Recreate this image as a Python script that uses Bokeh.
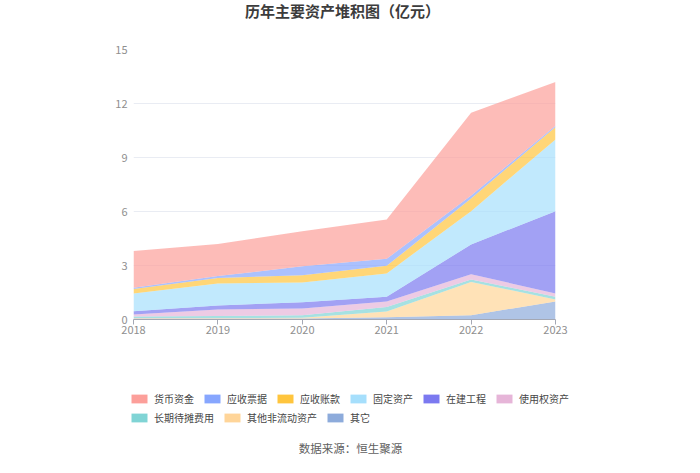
from bokeh.plotting import figure
from bokeh.models import Legend, LegendItem, Label, FixedTicker, ColumnDataSource
from bokeh.layouts import column
from bokeh.embed import file_html
from bokeh.resources import INLINE

years = [2018, 2019, 2020, 2021, 2022, 2023]
qita = [0.05, 0.05, 0.05, 0.13, 0.24, 1.00]          # 其它
qita_fld = [0.03, 0.03, 0.05, 0.32, 1.85, 0.11]      # 其他非流动资产
changqi = [0.09, 0.11, 0.14, 0.25, 0.13, 0.15]       # 长期待摊费用
shiyong = [0.11, 0.37, 0.37, 0.30, 0.30, 0.18]       # 使用权资产
zaijian = [0.18, 0.22, 0.35, 0.26, 1.65, 4.58]       # 在建工程
guding = [0.98, 1.22, 1.10, 1.30, 1.85, 3.98]        # 固定资产
yszk = [0.25, 0.31, 0.40, 0.42, 0.70, 0.70]          # 应收账款
yspj = [0.07, 0.10, 0.50, 0.39, 0.17, 0.06]          # 应收票据
huobi = [2.04, 1.79, 1.94, 2.19, 4.59, 2.44]         # 货币资金

names = ["其它", "其他非流动资产", "长期待摊费用", "使用权资产", "在建工程",
         "固定资产", "应收账款", "应收票据", "货币资金"]
series = [qita, qita_fld, changqi, shiyong, zaijian, guding, yszk, yspj, huobi]
colors = ["#8DABDB", "#FFD599", "#80D4D5", "#E6B5D8", "#7B79F0",
          "#A6DFFC", "#FFC53D", "#87A6FE", "#FC9F9A"]

y_ticks = [0, 3, 6, 9, 12, 15]

data = {"x": years}
for n, s in zip(names, series):
    data[n] = s
src = ColumnDataSource(data)

FONT = "Noto Sans CJK SC"

# title strip
p0 = figure(width=684, height=24, output_backend="svg", toolbar_location=None,
            x_range=(0, 684), y_range=(0, 24), x_axis_type=None, y_axis_type=None,
            min_border=0)
p0.frame_align = False
p0.outline_line_color = None
p0.grid.visible = False
p0.add_layout(Label(x=342, y=14, text="历年主要资产堆积图（亿元）",
                    text_align="center", text_baseline="middle",
                    text_font=FONT, text_font_size="15px", text_font_style="bold",
                    text_color="#3c3c3c"))

p = figure(width=684, height=321, output_backend="svg", toolbar_location=None,
           x_range=(2018, 2023), y_range=(0, 15),
           min_border_left=133, min_border_right=129,
           min_border_top=25, min_border_bottom=26)
p.outline_line_color = None

p.varea_stack(stackers=names, x="x", source=src, color=colors, fill_alpha=0.7)

# axes
p.yaxis.ticker = FixedTicker(ticks=y_ticks)
p.xaxis.ticker = FixedTicker(ticks=years)
p.yaxis.axis_line_color = None
p.yaxis.major_tick_line_color = None
p.yaxis.major_tick_out = 0
p.yaxis.major_tick_in = 0
p.yaxis.minor_tick_line_color = None
p.yaxis.major_label_text_color = "#8f8f8f"
p.yaxis.major_label_text_font_size = "11px"
p.yaxis.major_label_text_font = FONT
p.yaxis.major_label_standoff = 6

p.xaxis.axis_line_color = "#A4A8B4"
p.xaxis.major_tick_line_color = "#A4A8B4"
p.xaxis.major_tick_in = 0
p.xaxis.major_tick_out = 5
p.xaxis.minor_tick_line_color = None
p.xaxis.major_label_text_color = "#8f8f8f"
p.xaxis.major_label_text_font_size = "11px"
p.xaxis.major_label_text_font = FONT
p.xaxis.major_label_standoff = 1

p.xgrid.grid_line_color = None
p.ygrid.grid_line_color = "#E9ECF3"

# bottom area: legend + source
p2 = figure(width=684, height=112, output_backend="svg", toolbar_location=None,
            x_range=(0, 684), y_range=(0, 112), x_axis_type=None, y_axis_type=None,
            min_border=0)
p2.frame_align = False
p2.outline_line_color = None
p2.grid.visible = False

nan = float("nan")
swatch = {}
for n, c in zip(names, colors):
    swatch[n] = p2.rect(x=[nan], y=[nan], width=1, height=1, fill_color=c, line_color=None,
                        border_radius=3)

row1 = ["货币资金", "应收票据", "应收账款", "固定资产", "在建工程", "使用权资产"]
row2 = ["长期待摊费用", "其他非流动资产", "其它"]

def make_legend(labels, loc):
    leg = Legend(items=[LegendItem(label=l, renderers=[swatch[l]]) for l in labels],
                 orientation="horizontal", location=loc,
                 border_line_color=None, background_fill_alpha=0,
                 padding=0, margin=0, spacing=8,
                 glyph_width=20, glyph_height=11, label_standoff=5,
                 label_height=12,
                 label_text_font=FONT, label_text_font_size="10px",
                 label_text_color="#464646")
    p2.add_layout(leg)

make_legend(row1, (129, 51))
make_legend(row2, (129, 32))

p2.add_layout(Label(x=350, y=10, text="数据来源：恒生聚源",
                    text_align="center", text_baseline="middle",
                    text_font=FONT, text_font_size="11.5px",
                    text_color="#606060"))

layout = column(p0, p, p2, spacing=0)
open("out.html", "w").write(file_html(layout, INLINE))
